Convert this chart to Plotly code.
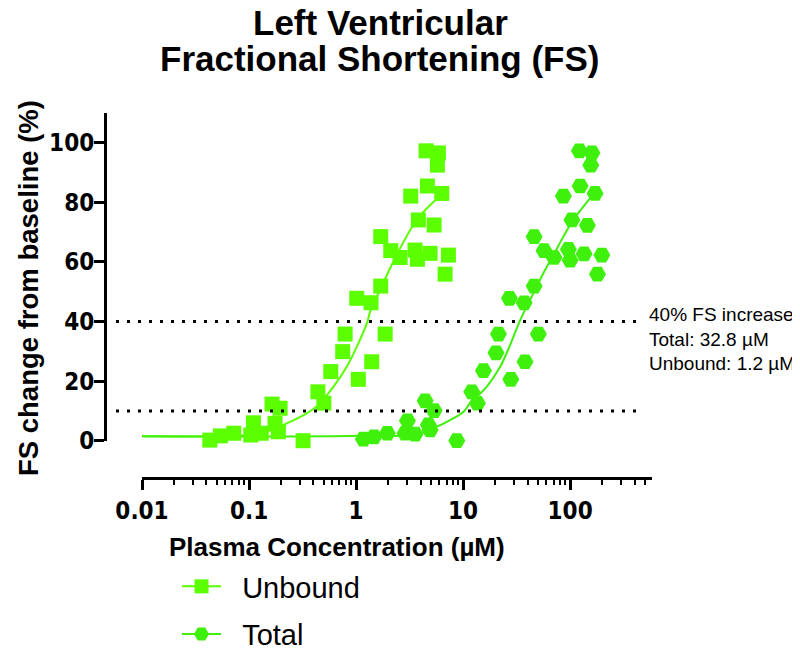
import plotly.graph_objects as go

# ---------------- data ----------------
unbound_x = [0.043, 0.054, 0.072, 0.104, 0.11, 0.13, 0.164, 0.175, 0.188, 0.195, 0.32,
             0.44, 0.50, 0.58, 0.75, 0.79, 1.015, 1.05, 1.38, 1.40, 1.70, 1.70, 1.87,
             2.11, 2.58, 3.24, 3.56, 3.74, 3.82, 4.51, 4.64, 4.92, 5.36, 5.75, 5.88,
             6.32, 6.79, 7.29]
unbound_y = [0.2, 1.6, 2.5, 1.9, 6.0, 2.5, 12.3, 5.8, 3.0, 10.9, 0.0,
             16.4, 12.6, 23.2, 29.9, 35.8, 47.8, 20.6, 46.3, 26.5, 51.9, 68.5, 35.8,
             63.8, 61.5, 82.1, 64.0, 60.9, 74.1, 97.3, 85.5, 62.9, 72.4, 92.5, 96.6,
             83.0, 55.9, 62.3]

total_x = [1.17, 1.47, 1.96, 2.87, 3.56, 3.02, 4.42, 5.36, 4.74, 4.92, 8.73,
           12.05, 13.6, 15.5, 20.3, 21.4, 27.1, 27.9, 37.2, 37.9, 46.1, 46.1, 50.5,
           57.1, 70.8, 86.5, 96.4, 100, 104, 122, 124, 135, 145, 156, 160,
           171, 180, 198]
total_y = [0.5, 1.3, 2.5, 2.5, 2.2, 6.7, 13.4, 10.1, 5.3, 3.6, 0.0,
           16.4, 12.6, 23.5, 29.5, 35.8, 47.8, 20.6, 46.3, 26.5, 51.9, 68.5, 35.8,
           63.8, 61.5, 82.1, 64.2, 60.6, 74.1, 97.3, 85.5, 62.7, 72.3, 92.5, 96.6,
           83.0, 55.9, 62.3]

# fitted curves
unbound_fit_x = [0.01, 0.102, 0.146, 0.225, 0.346, 0.43, 0.614, 0.818, 1.015, 1.276,
                 1.352, 1.675, 2.08, 2.58, 3.43, 4.26, 5.6]
unbound_fit_y = [1.5, 1.9, 3.0, 5.8, 9.2, 11.6, 18.1, 24.8, 31.5, 39.9,
                 43.3, 50.6, 57.9, 64.6, 72.4, 76.8, 81.0]
total_fit_x = [0.01, 0.88, 3.69, 5.68, 7.56, 10.1, 11.6, 16.6, 22.2, 27.5, 33.6,
               37.9, 45.4, 56.2, 69.8, 86.5, 107, 156]
total_fit_y = [1.5, 1.6, 2.2, 4.7, 6.9, 9.7, 12.6, 18.1, 24.8, 32.1, 39.9,
               43.9, 49.5, 56.2, 62.3, 68.5, 74.1, 81.7]

threshold_levels = [10, 40]
x_tick_vals = [0.01, 0.1, 1, 10, 100]
x_tick_text = ["0.01", "0.1", "1", "10", "100"]
x_minor_vals = [d * m for d in [0.01, 0.1, 1, 10, 100] for m in range(2, 10) if d * m <= 500]
y_tick_vals = [0, 20, 40, 60, 80, 100]

title_lines = ["Left Ventricular", "Fractional Shortening (FS)"]
x_title = "Plasma Concentration (µM)"
y_title = "FS change from baseline (%)"
note_text = "40% FS increase<br>Total: 32.8 µM<br>Unbound: 1.2 µM"
legend_names = ["Unbound", "Total"]

# ---------------- style ----------------
C_UNB = "#5BFF00"
C_TOT = "#3FF00C"
FONT = "Liberation Sans, Arial, sans-serif"
COND = "DejaVu Sans Condensed, Liberation Sans, sans-serif"

# page body has an 8px margin; size the figure so it fits the 800x649 window
OFF = 8
W, H = 800 - OFF, 649 - OFF
L, R, T, B = 97, 148, 105, 171
pw, ph = W - L - R, H - T - B


def px_x(p):
    """window pixel x -> paper fraction"""
    return (p - OFF - L) / pw


def px_y(p):
    """window pixel y -> paper fraction"""
    return (H - B - (p - OFF)) / ph


fig = go.Figure()

fig.add_trace(go.Scatter(x=unbound_fit_x, y=unbound_fit_y, mode="lines",
                         line=dict(color=C_UNB, width=2, shape="spline", smoothing=1.0),
                         showlegend=False, hoverinfo="skip", cliponaxis=False))
fig.add_trace(go.Scatter(x=total_fit_x, y=total_fit_y, mode="lines",
                         line=dict(color=C_TOT, width=2, shape="spline", smoothing=1.0),
                         showlegend=False, hoverinfo="skip", cliponaxis=False))
fig.add_trace(go.Scatter(x=total_x, y=total_y, mode="markers",
                         marker=dict(symbol="hexagon2", size=17, color=C_TOT, line=dict(width=0)),
                         showlegend=False, cliponaxis=False))
fig.add_trace(go.Scatter(x=unbound_x, y=unbound_y, mode="markers",
                         marker=dict(symbol="square", size=15, color=C_UNB, line=dict(width=0)),
                         showlegend=False, cliponaxis=False))
# legend entries
fig.add_trace(go.Scatter(x=[None], y=[None], mode="lines+markers",
                         name="\u2007" + legend_names[0], legendgroup="u",
                         line=dict(color=C_UNB, width=2),
                         marker=dict(symbol="square", size=14, color=C_UNB)))
fig.add_trace(go.Scatter(x=[None], y=[None], mode="lines+markers",
                         name="\u2007" + legend_names[1], legendgroup="t",
                         line=dict(color=C_TOT, width=2),
                         marker=dict(symbol="hexagon2", size=15, color=C_TOT)))

for lvl in threshold_levels:
    fig.add_shape(type="line", xref="paper", yref="y", x0=px_x(116), x1=px_x(641),
                  y0=lvl, y1=lvl, line=dict(color="black", width=3, dash="3px,8px"))

fig.update_layout(
    width=W, height=H,
    margin=dict(l=L, r=R, t=T, b=B, pad=0, autoexpand=False),
    paper_bgcolor="white", plot_bgcolor="white",
    font=dict(family=FONT, color="black"),
    xaxis=dict(type="log", range=[-2, 2.765], domain=[px_x(142), 1],
               anchor="free", position=0,
               showline=True, linecolor="black", linewidth=3,
               ticks="outside", ticklen=10, tickwidth=3, tickcolor="black",
               tickmode="array", tickvals=x_tick_vals, ticktext=x_tick_text,
               tickfont=dict(size=24, family=COND, weight="bold"),
               minor=dict(tickmode="array", tickvals=x_minor_vals, ticks="outside",
                          ticklen=5, tickwidth=2, tickcolor="black", showgrid=False),
               showgrid=False, zeroline=False),
    yaxis=dict(range=[0, 110], domain=[px_y(440.7), 1],
               anchor="free", position=0,
               showline=True, linecolor="black", linewidth=3,
               ticks="outside", ticklen=10, tickwidth=3, tickcolor="black",
               tickmode="array", tickvals=y_tick_vals,
               tickfont=dict(size=24, family=COND, weight="bold"),
               ticklabelstandoff=-5,
               showgrid=False, zeroline=False),
    legend=dict(xref="container", yref="container",
                x=(177 - OFF) / W, y=1 - (561 - OFF) / H, xanchor="left", yanchor="top",
                font=dict(size=29, family=FONT), itemwidth=39,
                bgcolor="rgba(0,0,0,0)", tracegroupgap=7),
    showlegend=True,
)

fig.add_annotation(text=title_lines[0], xref="paper", yref="paper", x=px_x(380), y=px_y(22),
                   xanchor="center", yanchor="middle", showarrow=False,
                   font=dict(size=35, family=FONT, weight="bold"))
fig.add_annotation(text=title_lines[1], xref="paper", yref="paper", x=px_x(379), y=px_y(59),
                   xanchor="center", yanchor="middle", showarrow=False,
                   font=dict(size=35, family=FONT, weight="bold"))
fig.add_annotation(text=x_title, xref="paper", yref="paper", x=px_x(337), y=px_y(547),
                   xanchor="center", yanchor="middle", showarrow=False,
                   font=dict(size=26, family=FONT, weight="bold"))
fig.add_annotation(text=y_title, xref="paper", yref="paper", x=px_x(28), y=px_y(288),
                   xanchor="center", yanchor="middle", showarrow=False, textangle=-90,
                   font=dict(size=27.5, family=FONT, weight="bold"))
fig.add_annotation(text=note_text, xref="paper", yref="paper", x=px_x(647), y=px_y(339),
                   xanchor="left", yanchor="middle", align="left", showarrow=False,
                   font=dict(size=19, family=FONT))

fig.write_html("out.html")
